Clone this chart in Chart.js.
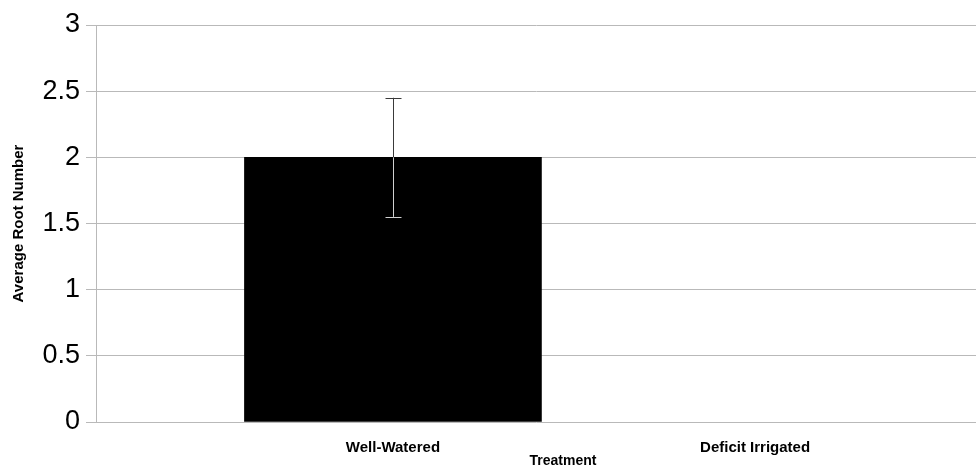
<!DOCTYPE html>
<html>
<head>
<meta charset="utf-8">
<script src="https://cdn.jsdelivr.net/npm/chart.js@4/dist/chart.umd.min.js"></script>
<style>
  html, body { margin: 0; padding: 0; background: #fff; }
  #wrap { width: 976px; height: 466px; }
</style>
</head>
<body>
<div id="wrap"><canvas id="rootChart" width="976" height="466"></canvas></div>
<script>
    // Chart data
    const categories = ["Well-Watered", "Deficit Irrigated"];
    const rootMeans = [2, 0];
    const rootErrors = [0.45, 0];
    const yTicks = [0, 0.5, 1, 1.5, 2, 2.5, 3];
    const xTitle = "Treatment";

    const gridGray = "#b9b9b9";
    const fontFamily = "Liberation Sans, Arial, sans-serif";

    // Draw the error bars on top of the bars
    const errorBars = {
      id: "errorBars",
      afterDatasetsDraw(chart) {
        const meta = chart.getDatasetMeta(0);
        const y = chart.scales.y;
        const c = chart.ctx;
        c.save();
        c.lineWidth = 1;
        meta.data.forEach((bar, i) => {
          const err = rootErrors[i];
          if (!err) return;
          const x = Math.round(bar.x) + 0.5;
          const top = y.getPixelForValue(rootMeans[i] + err);
          const mid = y.getPixelForValue(rootMeans[i]);
          const bot = y.getPixelForValue(rootMeans[i] - err);
          // part above the bar
          c.strokeStyle = "#3a3a3a";
          c.beginPath();
          c.moveTo(x, top); c.lineTo(x, mid);
          c.moveTo(x - 8, Math.round(top) + 0.5); c.lineTo(x + 8, Math.round(top) + 0.5);
          c.stroke();
          // part inside the bar
          c.strokeStyle = "#d0d0d0";
          c.beginPath();
          c.moveTo(x, mid); c.lineTo(x, bot);
          c.moveTo(x - 8, Math.round(bot) + 0.5); c.lineTo(x + 8, Math.round(bot) + 0.5);
          c.stroke();
        });
        c.restore();
      }
    };

    // x axis title sits a bit right of the plot centre, like the original
    const treatmentTitle = {
      id: "treatmentTitle",
      afterDraw(chart) {
        const area = chart.chartArea;
        const c = chart.ctx;
        c.save();
        c.fillStyle = "#000";
        c.font = "bold 14px " + fontFamily;
        c.textAlign = "center";
        c.textBaseline = "alphabetic";
        c.fillText(xTitle, (area.left + area.right) / 2 + 27, 465);
        c.restore();
      }
    };

    const ctx = document.getElementById("rootChart").getContext("2d");
    const chart = new Chart(ctx, {
      type: "bar",
      data: {
        datasets: [{
          label: "Average Root Number",
          data: categories.map((c, i) => ({ x: i, y: rootMeans[i] })),
          backgroundColor: c => (rootMeans[c.dataIndex] ? "#000000" : "rgba(0,0,0,0)"),
          borderWidth: 0,
          barThickness: 297
        }]
      },
      options: {
        responsive: false,
        animation: false,
        devicePixelRatio: 1,
        layout: { padding: { top: 25, right: 0, bottom: 0, left: 0 } },
        plugins: {
          legend: { display: false },
          tooltip: { enabled: false }
        },
        scales: {
          x: {
            type: "linear",
            offset: false,
            min: -0.82,
            max: 1.61,
            afterBuildTicks: scale => {
              scale.ticks = categories.map((c, i) => ({ value: i }));
            },
            afterFit: scale => { scale.height = 44; },
            grid: { display: false, drawTicks: false },
            border: { display: false },
            ticks: {
              autoSkip: false,
              maxRotation: 0,
              padding: 17,
              color: "#000",
              font: { family: fontFamily, size: 15, weight: "bold" },
              callback: v => categories[v]
            }
          },
          y: {
            min: 0,
            max: 3,
            afterBuildTicks: scale => {
              scale.ticks = yTicks.map(v => ({ value: v }));
            },
            afterFit: scale => { scale.width = 96; },
            grid: { color: gridGray, tickLength: 10, tickColor: gridGray },
            border: { color: gridGray },
            ticks: {
              padding: 6,
              color: "#000",
              font: { family: fontFamily, size: 27 },
              callback: v => String(v)
            },
            title: {
              display: true,
              text: "Average Root Number",
              color: "#000",
              padding: { top: 10, bottom: 0 },
              font: { family: fontFamily, size: 15, weight: "bold" }
            }
          }
        }
      },
      plugins: [errorBars, treatmentTitle]
    });
</script>
</body>
</html>
